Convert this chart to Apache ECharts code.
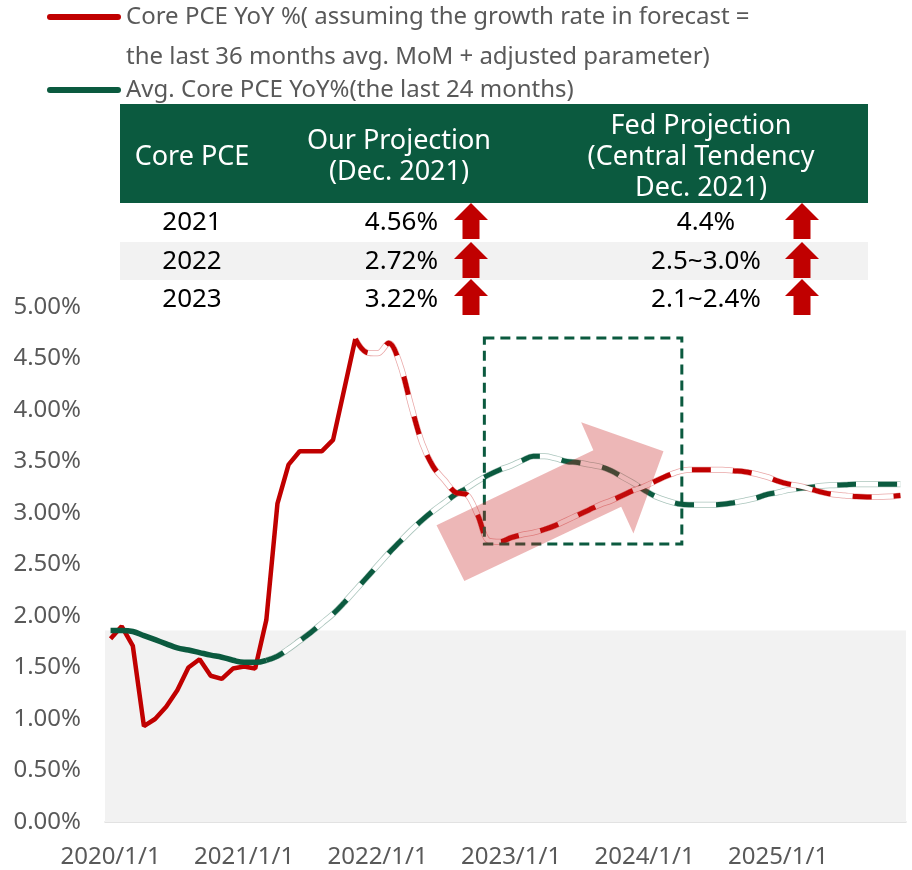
<!DOCTYPE html>
<html>
<head>
<meta charset="utf-8">
<script src="https://cdn.jsdelivr.net/npm/echarts@6/dist/echarts.min.js"></script>
<style>
  html, body { margin: 0; padding: 0; background: #fff; }
  #chart { width: 912px; height: 870px; }
</style>
</head>
<body>
<div id="chart"></div>
<script>
// monthly categories 2020/1 .. 2025/12
const months = []
for (let y = 2020; y <= 2025; y++) {
  for (let m = 1; m <= 12; m++) months.push(y + '/' + m + '/1')
}

// Core PCE YoY (%) - actual, 2020/1 .. 2021/11
const redActual = [1.78, 1.90, 1.71, 0.93, 1.00, 1.12, 1.28, 1.50, 1.58, 1.42, 1.39, 1.49,
  1.51, 1.49, 1.96, 3.09, 3.47, 3.60, 3.60, 3.60, 3.71, 4.20, 4.69]
// Core PCE YoY (%) - forecast, 2021/11 .. 2025/12
const redForecast = [4.69, 4.56, 4.55, 4.65, 4.45, 4.05, 3.68, 3.45, 3.32, 3.20, 3.18, 2.98,
  2.73, 2.72, 2.76, 2.79, 2.81, 2.84, 2.88, 2.93, 2.98, 3.03, 3.08, 3.12,
  3.17, 3.22, 3.26, 3.31, 3.36, 3.40, 3.42, 3.42, 3.42, 3.42, 3.41, 3.40,
  3.38, 3.35, 3.31, 3.28, 3.26, 3.23, 3.20, 3.18, 3.17, 3.16, 3.155, 3.155,
  3.16, 3.17]
// 24M avg core PCE YoY (%) - actual, 2020/1 .. 2021/3
const greenActual = [1.86, 1.86, 1.85, 1.81, 1.77, 1.73, 1.69, 1.67, 1.645, 1.62, 1.60, 1.57,
  1.55, 1.55, 1.57]
// 24M avg core PCE YoY (%) - forecast, 2021/3 .. 2025/12
const greenForecast = [1.57, 1.61, 1.68, 1.76, 1.84, 1.93, 2.02, 2.13, 2.25, 2.37, 2.49, 2.61,
  2.72, 2.83, 2.93, 3.02, 3.10, 3.18, 3.24, 3.31, 3.37, 3.42, 3.46, 3.51,
  3.55, 3.55, 3.53, 3.50, 3.49, 3.47, 3.45, 3.41, 3.35, 3.29, 3.22, 3.16,
  3.12, 3.09, 3.08, 3.08, 3.08, 3.085, 3.10, 3.12, 3.145, 3.18, 3.20, 3.225,
  3.24, 3.25, 3.265, 3.27, 3.275, 3.28, 3.28, 3.28, 3.28, 3.28]

const bandTop = 1.86   // shaded zone upper bound (%)

// projection table
const tableHeader = [['Core PCE'], ['Our Projection', '(Dec. 2021)'], ['Fed Projection', '(Central Tendency', 'Dec. 2021)']]
const tableYears = ['2021', '2022', '2023']
const ourProjection = ['4.56%', '2.72%', '3.22%']
const fedProjection = ['4.4%', '2.5~3.0%', '2.1~2.4%']

const redName = 'Core PCE YoY %( assuming the growth rate in forecast ='
const redName2 = 'the last 36 months avg. MoM + adjusted parameter)'
const greenName = 'Avg. Core PCE YoY%(the last 24 months)'

// annotation shapes in data coordinates [month index, %]
const boxCorners = [[33.6, 4.70], [51.35, 2.70]]
const trendArrow = [[29.3, 2.88], [43.4, 3.61], [42.3, 3.88], [49.7, 3.60],
  [47.0, 2.80], [45.9, 3.06], [31.8, 2.34]]

const RED = '#c00000'
const GREEN = '#0b5a3f'
const GREY = '#595959'
const FONT = 'Noto Sans'

const pad = (arr, before) => Array(before).fill(null).concat(arr)
  .concat(Array(Math.max(0, months.length - before - arr.length)).fill(null))

const forecastLayers = (data, color, smooth) => [
  { type: 'line', data, smooth, symbol: 'none', silent: true, z: 3,
    lineStyle: { color, width: 6, opacity: 0.35 } },
  { type: 'line', data, smooth, symbol: 'none', silent: true, z: 3,
    lineStyle: { color: '#fff', width: 4.5 } },
  { type: 'line', data, smooth, symbol: 'none', silent: true, z: 3,
    lineStyle: { color, width: 5, type: [19, 22], cap: 'butt' } }
]

const chart = echarts.init(document.getElementById('chart'), null, { renderer: 'canvas' })

const lineIcon = 'path://M3,0 L71,0 A3,3 0 0 1 71,6 L3,6 A3,3 0 0 1 3,0 Z'

chart.setOption({
  animation: false,
  textStyle: { fontFamily: FONT },
  grid: { left: 105, right: 6, top: 307, bottom: 48 },
  legend: {
    orient: 'vertical',
    left: 47,
    top: 2,
    padding: 0,
    itemGap: 43,
    itemWidth: 74,
    itemHeight: 6,
    selectedMode: false,
    data: [
      { name: redName, icon: lineIcon, itemStyle: { color: RED } },
      { name: greenName, icon: lineIcon, itemStyle: { color: GREEN } }
    ],
    textStyle: { color: GREY, fontSize: 24, lineHeight: 30, fontFamily: FONT }
  },
  xAxis: {
    type: 'category',
    data: months,
    boundaryGap: true,
    axisTick: { show: false },
    axisLine: { lineStyle: { color: '#d9d9d9', width: 1.5 } },
    axisLabel: { interval: 11, color: GREY, fontSize: 24, margin: 23, fontFamily: FONT },
    splitLine: { show: false }
  },
  yAxis: {
    type: 'value',
    min: 0,
    max: 5,
    interval: 0.5,
    axisLine: { show: false },
    axisTick: { show: false },
    splitLine: { show: false },
    axisLabel: { color: GREY, fontSize: 24, margin: 24, fontFamily: FONT,
      formatter: v => v.toFixed(2) + '%' }
  },
  series: [
    {
      name: redName, type: 'line', data: pad(redActual, 0), smooth: false, symbol: 'none', z: 4,
      itemStyle: { color: RED }, lineStyle: { color: RED, width: 4.5 },
      markArea: { silent: true, itemStyle: { color: '#f2f2f2' },
        data: [[{ yAxis: 0 }, { yAxis: bandTop }]] }
    },
    ...forecastLayers(pad(greenForecast, greenActual.length - 1), GREEN, 0.4),
    ...forecastLayers(pad(redForecast, redActual.length - 1), RED, 0.35),
    {
      name: greenName, type: 'line', data: pad(greenActual, 0), smooth: 0.4, symbol: 'none', z: 5,
      itemStyle: { color: GREEN }, lineStyle: { color: GREEN, width: 5.5 }
    }
  ]
})

// ---- annotations ----
const toPx = (ix, v) => {
  const i0 = Math.floor(ix)
  const p0 = chart.convertToPixel({ xAxisIndex: 0, yAxisIndex: 0 }, [i0, v])
  const p1 = chart.convertToPixel({ xAxisIndex: 0, yAxisIndex: 0 }, [i0 + 1, v])
  return [p0[0] + (p1[0] - p0[0]) * (ix - i0), p0[1]]
}

const graphics = []
const txt = (text, x, y, opts) => graphics.push({
  type: 'text', x, y, z: 120, silent: true,
  style: Object.assign({ text, fill: '#000', font: '26px "' + FONT + '"',
    align: 'center', verticalAlign: 'middle' }, opts || {})
})

// legend 2nd line
txt(redName2, 126, 57, { fill: GREY, font: '24px "' + FONT + '"', align: 'left' })

// table
const tblLeft = 120, tblWidth = 748
graphics.push({ type: 'rect', z: 110, silent: true,
  shape: { x: tblLeft, y: 104, width: tblWidth, height: 99 }, style: { fill: GREEN } })
graphics.push({ type: 'rect', z: 110, silent: true,
  shape: { x: tblLeft, y: 242, width: tblWidth, height: 38 }, style: { fill: '#f2f2f2' } })

const colX = [192, 399, 701]
const headerLineY = [[157], [141, 172], [126, 157, 188]]
tableHeader.forEach((lines, c) => {
  lines.forEach((t, l) => txt(t, colX[c], headerLineY[c][l], { fill: '#fff', font: '27px "' + FONT + '"' }))
})

const rowY = [223, 262, 300]
const arrowTop = [203, 242, 279]
const upArrow = (cx, top) => ({
  type: 'polygon', z: 115, silent: true,
  shape: { points: [[cx, top], [cx + 17, top + 17], [cx + 8.5, top + 17], [cx + 8.5, top + 36],
    [cx - 8.5, top + 36], [cx - 8.5, top + 17], [cx - 17, top + 17]] },
  style: { fill: RED }
})
tableYears.forEach((yr, r) => {
  txt(yr, colX[0], rowY[r])
  txt(ourProjection[r], 438, rowY[r], { align: 'right' })
  txt(fedProjection[r], 706, rowY[r])
  graphics.push(upArrow(471, arrowTop[r]))
  graphics.push(upArrow(802, arrowTop[r]))
})

// dashed box
const b0 = toPx(boxCorners[0][0], boxCorners[0][1])
const b1 = toPx(boxCorners[1][0], boxCorners[1][1])
graphics.push({ type: 'rect', z: 100, silent: true,
  shape: { x: b0[0], y: b0[1], width: b1[0] - b0[0], height: b1[1] - b0[1] },
  style: { fill: 'none', stroke: GREEN, lineWidth: 3, lineDash: [10, 6] } })

// trend arrow
graphics.push({ type: 'polygon', z: 101, silent: true,
  shape: { points: trendArrow.map(p => toPx(p[0], p[1])) },
  style: { fill: 'rgba(200, 30, 30, 0.32)' } })

chart.setOption({ graphic: graphics })
</script>
</body>
</html>
